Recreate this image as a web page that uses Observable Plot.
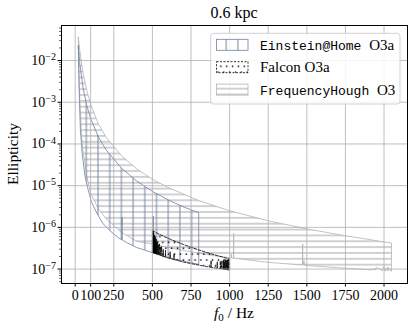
<!DOCTYPE html>
<html><head><meta charset="utf-8">
<script src="https://cdn.jsdelivr.net/npm/d3@7"></script>
<script src="https://cdn.jsdelivr.net/npm/@observablehq/plot@0.6"></script>
<style>
html,body{margin:0;padding:0;background:#fff;}
#chart svg{display:block;}
#chart svg text{font-family:'Liberation Serif','Times New Roman',serif;}
</style></head><body>
<svg width="0" height="0" style="position:absolute">
<defs>
<pattern id="hatchEH" patternUnits="userSpaceOnUse" width="11.7" height="11.7" x="-1.95" y="0">
  <line x1="5.85" y1="-1" x2="5.85" y2="12.7" stroke="#7384a3" stroke-width="1"/>
</pattern>
<pattern id="hatchFH" patternUnits="userSpaceOnUse" width="5.85" height="5.85" x="0" y="-2">
  <line x1="-1" y1="2.9" x2="6.85" y2="2.9" stroke="#a4a4a4" stroke-width="1"/>
</pattern>
<pattern id="hatchFalcon" patternUnits="userSpaceOnUse" width="5.85" height="11.7" x="0" y="0">
  <circle cx="1.5" cy="2" r="0.85" fill="#000"/>
  <circle cx="4.42" cy="7.85" r="0.85" fill="#000"/>
</pattern>
</defs></svg>
<div id="chart"></div>
<script>
// ---------- data ----------
const titleText = "0.6 kpc";
const seriesNames = ["Einstein@Home", "Falcon", "FrequencyHough"];
const seriesRuns = ["O3a", "O3a", "O3"];
const xTicks = [0, 100, 250, 500, 750, 1000, 1250, 1500, 1750, 2000];
const yTicks = [1e-7, 1e-6, 1e-5, 1e-4, 1e-3, 1e-2];
const minorMultipliers = [2, 3, 4, 5, 6, 7, 8, 9];
const minorDecades = [1e-8, 1e-7, 1e-6, 1e-5, 1e-4, 1e-3, 1e-2];

// FrequencyHough O3
const fhUpperF = [20, 30, 50, 75, 100, 150, 200, 300, 400, 500, 600, 800, 1000, 1250, 1500, 1750, 2048];
const fhUpperE = [3.6e-2, 1.7e-2, 5.2e-3, 1.9e-3, 9.0e-4, 3.0e-4, 1.45e-4, 5.2e-5, 2.5e-5, 1.43e-5, 9.1e-6, 4.4e-6, 2.5e-6, 1.44e-6, 9.2e-7, 6.3e-7, 4.2e-7];
const fhLowerF = [20, 22, 25, 30, 40, 50, 75, 100, 150, 200, 300, 400, 500, 600, 700, 800, 900, 1000, 1010, 1011, 1012, 1025, 1026, 1027, 1250, 1470, 1472, 1473, 1474, 1476, 1482, 1485, 1750, 1930, 1940, 1945, 1950, 1990, 2000, 2005, 2010, 2022, 2025, 2030, 2048];
const fhLowerE = [3.6e-2, 1.2e-2, 4.0e-3, 1.2e-3, 1.8e-4, 7.0e-5, 1.7e-5, 6.5e-6, 2.8e-6, 1.6e-6, 7.5e-7, 4.6e-7, 4.0e-7, 3.3e-7, 2.8e-7, 2.4e-7, 2.1e-7, 1.87e-7, 1.85e-7, 2.3e-7, 1.85e-7, 1.82e-7, 7.2e-7, 1.82e-7, 1.45e-7, 1.25e-7, 1.25e-7, 4.0e-7, 1.25e-7, 1.24e-7, 1.6e-7, 1.23e-7, 1.05e-7, 9.5e-8, 1.05e-7, 9.4e-8, 1.1e-7, 9.2e-8, 1.15e-7, 9.1e-8, 9.0e-8, 1.12e-7, 9.0e-8, 1.08e-7, 8.8e-8];

// Einstein@Home O3a
const ehUpperF = [20, 30, 50, 75, 100, 150, 200, 300, 400, 500, 600, 700, 800];
const ehUpperE = [2.29e-2, 8.3e-3, 2.31e-3, 8.4e-4, 4.07e-4, 1.48e-4, 7.2e-5, 2.62e-5, 1.28e-5, 7.3e-6, 4.6e-6, 3.1e-6, 2.25e-6];
const ehLowerF = [20, 25, 30, 34, 45, 62, 80, 106, 140, 181, 230, 289, 302, 303, 304, 340, 397, 450, 504, 505, 506, 550, 600, 700, 800];
const ehLowerE = [2.29e-2, 2.5e-3, 5.5e-4, 2.1e-4, 6.0e-5, 1.8e-5, 9.0e-6, 4.0e-6, 2.2e-6, 1.21e-6, 8.0e-7, 5.3e-7, 5.1e-7, 1.74e-6, 5.0e-7, 4.2e-7, 3.3e-7, 2.85e-7, 2.45e-7, 1.86e-6, 2.43e-7, 2.15e-7, 1.9e-7, 1.55e-7, 1.3e-7];

// Falcon O3a
const falconUpperF = [500, 550, 600, 650, 700, 750, 800, 850, 900, 950, 1000];
const falconUpperE = [8.3e-7, 6.7e-7, 5.5e-7, 4.6e-7, 3.9e-7, 3.34e-7, 2.88e-7, 2.51e-7, 2.21e-7, 1.96e-7, 1.74e-7];
const falconLowerF = [500, 501, 502, 503, 504, 505, 506, 507, 508, 509, 510, 511, 512, 513, 514, 516, 517, 519, 520, 522, 523, 526, 527, 530, 531, 535, 536, 540, 541, 546, 547, 553, 554, 560, 561, 569, 570, 571, 584, 585, 586, 600, 614, 615, 616, 639, 640, 641, 660, 700, 750, 800, 850, 879, 880, 881, 900, 919, 920, 921, 939, 940, 941, 949, 950, 951, 959, 960, 961, 965, 966, 970, 971, 975, 976, 980, 981, 985, 986, 990, 991, 995, 996, 1000];
const falconLowerE = [2.45e-7, 8.2e-7, 2.44e-7, 7.0e-7, 2.43e-7, 7.8e-7, 2.42e-7, 6.2e-7, 2.41e-7, 7.2e-7, 2.40e-7, 5.5e-7, 2.39e-7, 6.6e-7, 2.38e-7, 5.0e-7, 2.36e-7, 6.0e-7, 2.33e-7, 4.6e-7, 2.31e-7, 5.2e-7, 2.28e-7, 4.2e-7, 2.25e-7, 4.6e-7, 2.22e-7, 3.8e-7, 2.19e-7, 4.0e-7, 2.15e-7, 3.4e-7, 2.1e-7, 3.5e-7, 2.05e-7, 2.0e-7, 3.0e-7, 2.0e-7, 1.94e-7, 2.8e-7, 1.93e-7, 1.85e-7, 1.8e-7, 2.6e-7, 1.79e-7, 1.7e-7, 2.3e-7, 1.69e-7, 1.62e-7, 1.48e-7, 1.35e-7, 1.25e-7, 1.15e-7, 1.11e-7, 1.6e-7, 1.1e-7, 1.07e-7, 1.05e-7, 1.5e-7, 1.04e-7, 1.02e-7, 1.55e-7, 1.01e-7, 1.0e-7, 1.6e-7, 1.0e-7, 9.9e-8, 1.65e-7, 9.8e-8, 1.5e-7, 9.7e-8, 1.6e-7, 9.6e-8, 1.7e-7, 9.5e-8, 1.6e-7, 9.5e-8, 1.68e-7, 9.4e-8, 1.7e-7, 9.4e-8, 1.7e-7, 9.3e-8, 9.3e-8];

// ---------- styles ----------
const colEH = "#6f80a0", colFH = "#b4b4b4", colFalcon = "#000";
const serif = "'Liberation Serif', 'Times New Roman', serif";
const mono = "'Liberation Mono', 'DejaVu Sans Mono', monospace";
const yDomain = [4.51e-8, 6.92e-2];

function polygon(uf, ue, lf, le) {
  const pts = uf.map((f, i) => ({f, e: ue[i]}));
  for (let i = lf.length - 1; i >= 0; i--) pts.push({f: lf[i], e: le[i]});
  pts.push(pts[0]);
  return pts;
}
const fhPoly = polygon(fhUpperF, fhUpperE, fhLowerF, fhLowerE);
const ehPoly = polygon(ehUpperF, ehUpperE, ehLowerF, ehLowerE);
const falconPoly = polygon(falconUpperF, falconUpperE, falconLowerF, falconLowerE);
const yMinor = minorDecades.flatMap(d => minorMultipliers.map(m => m * d))
  .filter(v => v >= yDomain[0] && v <= yDomain[1]);

const svg = Plot.plot({
  width: 415, height: 329,
  marginLeft: 61, marginRight: 8, marginTop: 25, marginBottom: 46,
  style: "background: white; color: black;",
  x: {domain: [-88.7, 2152]},
  y: {type: "log", domain: yDomain},
  marks: [
    Plot.line(fhPoly, {x: "f", y: "e", fill: "url(#hatchFH)", stroke: colFH, strokeWidth: 0.8}),
    Plot.line(ehPoly, {x: "f", y: "e", fill: "url(#hatchEH)", stroke: colEH, strokeWidth: 0.8}),
    Plot.line(falconPoly, {x: "f", y: "e", fill: "url(#hatchFalcon)", stroke: colFalcon, strokeWidth: 0.8, strokeDasharray: "3,1.5"}),
    Plot.gridX({ticks: xTicks, stroke: "#b0b0b0", strokeOpacity: 0.9, strokeWidth: 0.9}),
    Plot.gridY({ticks: yTicks, stroke: "#b0b0b0", strokeOpacity: 0.9, strokeWidth: 0.9}),
    Plot.axisX({ticks: xTicks, tickSize: 3.5, tickPadding: 3.5, tickFormat: d => String(d), label: null}),
    Plot.axisY({ticks: yTicks, tickSize: 3.5, tickPadding: 2, tickFormat: d => "10^" + Math.round(Math.log10(d)), label: null}),
    Plot.axisY({ticks: yMinor, tickSize: 2, strokeWidth: 0.6, tickFormat: () => "", label: null}),
    Plot.frame({stroke: "black", strokeWidth: 1})
  ]
});

const s = d3.select(svg);
// tick label fonts
s.selectAll('g[aria-label$="tick label"]').attr("font-family", serif).attr("font-size", 14)
  .style("font-family", serif).style("font-size", "14px");
s.selectAll('g[aria-label$="tick label"] text').style("font-family", serif).style("font-size", "14px")
  .style("font-variant", "normal");
// superscript exponents on log tick labels
s.selectAll('g[aria-label="y-axis tick label"] text').each(function() {
  const t = d3.select(this);
  const str = t.text();
  if (!str.includes("^")) return;
  const [b, ex] = str.split("^");
  t.text(null);
  t.append("tspan").text(b);
  t.append("tspan").attr("dy", "-0.48em").style("font-size", "10px").text(ex.replace("-", "\u2212"));
});

function addText(parent, x, y, size, anchor) {
  return parent.append("text").attr("x", x).attr("y", y).attr("text-anchor", anchor)
    .attr("fill", "black").style("font-family", serif).style("font-size", size + "px");
}
// title
addText(s, 234, 18, 16, "middle").text(titleText);
// y label
addText(s, 0, 0, 15.5, "middle").attr("transform", "translate(18,154) rotate(-90)").text("Ellipticity");
// x label
const xl = addText(s, 234, 318, 15.5, "middle");
xl.append("tspan").style("font-style", "italic").text("f");
xl.append("tspan").style("font-size", "11px").attr("dy", "3").text("0");
xl.append("tspan").attr("dy", "-3").text(" / Hz");

// legend
const lg = s.append("g");
lg.append("rect").attr("x", 210.7).attr("y", 33.3).attr("width", 189.3).attr("height", 70.7).attr("rx", 3)
  .attr("fill", "white").attr("fill-opacity", 0.85).attr("stroke", "#cccccc").attr("stroke-width", 0.9);
const rowY = [44.8, 67.2, 89.6];
const fills = ["url(#hatchEH)", "url(#hatchFalcon)", "url(#hatchFH)"];
const strokes = [colEH, colFalcon, colFH];
const dashes = [null, "2,1.5", null];
const nameMono = [true, false, true];
rowY.forEach((cy, i) => {
  lg.append("rect").attr("x", 216.5).attr("y", cy - 5.5).attr("width", 31.5).attr("height", 11)
    .attr("fill", fills[i]).attr("stroke", strokes[i]).attr("stroke-width", 0.8)
    .attr("stroke-dasharray", dashes[i]);
  const t = addText(lg, 260, cy + 5, 15, "start");
  t.append("tspan").style("font-family", nameMono[i] ? mono : serif)
    .style("font-size", (nameMono[i] ? 13 : 15) + "px").text(seriesNames[i] + " ");
  t.append("tspan").style("font-family", serif).style("font-size", "15px").text(seriesRuns[i]);
});

document.getElementById("chart").append(svg);
</script>
</body></html>
